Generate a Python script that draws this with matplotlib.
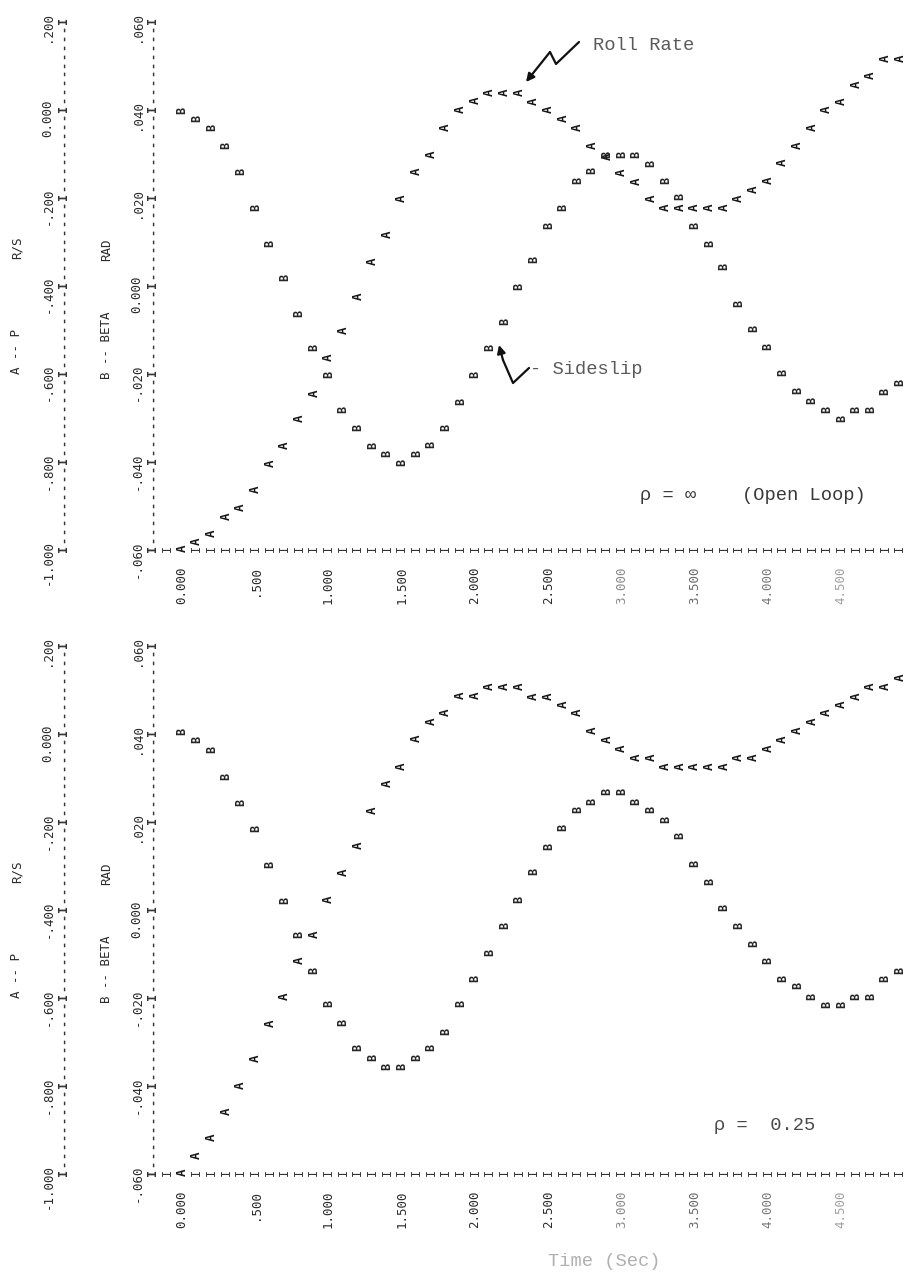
import numpy as np
import matplotlib
matplotlib.use("Agg")
import matplotlib.pyplot as plt
import matplotlib.transforms as mtransforms
from matplotlib.lines import Line2D
from matplotlib.patches import FancyArrowPatch

# ---------------- data ----------------
time_s = [0.0, 0.1, 0.2, 0.3, 0.4, 0.5, 0.6, 0.7, 0.8, 0.9,
          1.0, 1.1, 1.2, 1.3, 1.4, 1.5, 1.6, 1.7, 1.8, 1.9,
          2.0, 2.1, 2.2, 2.3, 2.4, 2.5, 2.6, 2.7, 2.8, 2.9,
          3.0, 3.1, 3.2, 3.3, 3.4, 3.5, 3.6, 3.7, 3.8, 3.9,
          4.0, 4.1, 4.2, 4.3, 4.4, 4.5, 4.6, 4.7, 4.8, 4.9]

# rho = infinity (open loop)
p_open = [-1.000, -0.984, -0.966, -0.927, -0.907, -0.866, -0.807, -0.766, -0.705, -0.648,
          -0.566, -0.505, -0.427, -0.348, -0.286, -0.205, -0.143, -0.105, -0.043, -0.002,
          0.018, 0.036, 0.036, 0.036, 0.016, -0.002, -0.023, -0.043, -0.084, -0.109,
          -0.145, -0.166, -0.205, -0.225, -0.225, -0.225, -0.225, -0.225, -0.205, -0.184,
          -0.164, -0.123, -0.084, -0.043, -0.002, 0.016, 0.055, 0.075, 0.114, 0.114]
beta_open = [0.0395, 0.0377, 0.0355, 0.0314, 0.0255, 0.0173, 0.0093, 0.0014, -0.0066, -0.0145,
             -0.0205, -0.0286, -0.0325, -0.0368, -0.0386, -0.0405, -0.0384, -0.0364, -0.0325, -0.0266,
             -0.0205, -0.0145, -0.0084, -0.0005, 0.0055, 0.0134, 0.0175, 0.0236, 0.0257, 0.0295,
             0.0295, 0.0295, 0.0275, 0.0236, 0.0198, 0.0134, 0.0093, 0.0039, -0.0045, -0.0102,
             -0.0143, -0.0202, -0.0243, -0.0264, -0.0286, -0.0305, -0.0286, -0.0286, -0.0245, -0.0223]

# rho = 0.25
p_rho025 = [-1.000, -0.961, -0.920, -0.861, -0.802, -0.741, -0.661, -0.600, -0.518, -0.459,
            -0.380, -0.318, -0.257, -0.177, -0.116, -0.077, -0.014, 0.025, 0.045, 0.084,
            0.084, 0.105, 0.105, 0.105, 0.082, 0.082, 0.064, 0.045, 0.005, -0.016,
            -0.036, -0.057, -0.057, -0.077, -0.077, -0.077, -0.077, -0.077, -0.057, -0.057,
            -0.036, -0.016, 0.005, 0.025, 0.045, 0.064, 0.082, 0.105, 0.105, 0.125]
beta_rho025 = [0.0402, 0.0382, 0.0361, 0.0300, 0.0241, 0.0180, 0.0100, 0.0018, -0.0059, -0.0141,
               -0.0218, -0.0259, -0.0318, -0.0339, -0.0359, -0.0359, -0.0339, -0.0318, -0.0280, -0.0218,
               -0.0159, -0.0100, -0.0039, 0.0020, 0.0082, 0.0141, 0.0182, 0.0223, 0.0243, 0.0264,
               0.0264, 0.0243, 0.0223, 0.0202, 0.0164, 0.0102, 0.0061, 0.0002, -0.0039, -0.0080,
               -0.0120, -0.0159, -0.0177, -0.0200, -0.0220, -0.0220, -0.0200, -0.0200, -0.0161, -0.0141]

time_ticks = [0.0, 0.5, 1.0, 1.5, 2.0, 2.5, 3.0, 3.5, 4.0, 4.5]
time_tick_labels = ["0.000", ".500", "1.000", "1.500", "2.000",
                    "2.500", "3.000", "3.500", "4.000", "4.500"]
p_ticks = [-1.0, -0.8, -0.6, -0.4, -0.2, 0.0, 0.2]
p_tick_labels = ["-1.000", "-.800", "-.600", "-.400", "-.200", "0.000", ".200"]
beta_ticks = [-0.06, -0.04, -0.02, 0.0, 0.02, 0.04, 0.06]
beta_tick_labels = ["-.060", "-.040", "-.020", "0.000", ".020", ".040", ".060"]

p_axis_title = ("A -- P", "R/S")
beta_axis_title = ("B -- BETA", "RAD")
panel_captions = [("\u03c1 = \u221e", "(Open Loop)"), ("\u03c1 =  0.25", None)]

# ---------------- layout ----------------
W, H = 906, 1279
X0, PXS = 182.0, 146.5          # pixel of t=0, pixels per second
MONO = ["DejaVu Sans Mono"]
TYPE = ["Liberation Mono", "DejaVu Sans Mono"]
INK = "#151515"

fig = plt.figure(figsize=(W / 100, H / 100), dpi=100)
fig.patch.set_facecolor("white")


def fxy(x, y):
    return (x / W, 1 - y / H)


def px_off(dx, dy):
    # offset in image pixels (dy positive = down)
    return mtransforms.ScaledTranslation(dx / 100, -dy / 100, fig.dpi_scale_trans)


def draw_panel(top, bottom, p, beta, caption):
    ax = fig.add_axes([0, 1 - bottom / H, 1, (bottom - top) / H])
    ax.set_xlim(-X0 / PXS, (W - X0) / PXS)
    ax.set_ylim(p_ticks[0], p_ticks[-1])
    ax.axis("off")
    axb = ax.twinx()
    axb.set_ylim(beta_ticks[0], beta_ticks[-1])
    axb.axis("off")

    xa = (63 - X0) / PXS
    xb = (152 - X0) / PXS
    # vertical printer axes  I---------I---------I
    sub_p = np.linspace(p_ticks[0], p_ticks[-1], 61)
    sub_b = np.linspace(beta_ticks[0], beta_ticks[-1], 61)
    for k in range(61):
        ch = "I" if k % 10 == 0 else "-"
        ax.text(xa, sub_p[k], ch, rotation=90, ha="center", va="center",
                family=MONO, fontsize=8.5, weight="bold", color="#333333")
        axb.text(xb, sub_b[k], ch, rotation=90, ha="center", va="center",
                 family=MONO, fontsize=8.5, weight="bold", color="#333333")

    # tick labels of vertical axes
    for v, lab in zip(p_ticks, p_tick_labels):
        ax.text((48 - X0) / PXS, v, lab, rotation=90, ha="center", va="top",
                family=MONO, fontsize=9, color="#2a2a2a",
                transform=ax.transData + px_off(0, -8))
    for v, lab in zip(beta_ticks, beta_tick_labels):
        axb.text((137 - X0) / PXS, v, lab, rotation=90, ha="center", va="top",
                 family=MONO, fontsize=9, color="#2a2a2a",
                 transform=axb.transData + px_off(0, -8))

    # axis titles
    fig.text(*fxy(17, top + 331), p_axis_title[0], rotation=90, ha="center", va="center",
             family=MONO, fontsize=9, color="#2a2a2a")
    fig.text(*fxy(17, top + 228), p_axis_title[1], rotation=90, ha="center", va="center",
             family=MONO, fontsize=9, color="#2a2a2a")
    fig.text(*fxy(107, top + 325), beta_axis_title[0], rotation=90, ha="center", va="center",
             family=MONO, fontsize=9, color="#2a2a2a")
    fig.text(*fxy(107, top + 230), beta_axis_title[1], rotation=90, ha="center", va="center",
             family=MONO, fontsize=9, color="#2a2a2a")

    # time axis row of I's (skip positions occupied by a data character)
    occupied = [t for t, v in zip(time_s, p) if abs(v - p_ticks[0]) < 0.01]
    for tt in np.arange(-0.2, 4.95, 0.1):
        if any(abs(tt - o) < 0.01 for o in occupied):
            continue
        ax.text(tt, p_ticks[0], "I", rotation=90, ha="center", va="center",
                family=MONO, fontsize=8.5, color="#333333")

    # time tick labels
    tl_colors = ["#2a2a2a"] * 6 + ["#8a8a8a", "#6a6a6a", "#7a7a7a", "#a0a0a0"]
    for tt, lab, c in zip(time_ticks, time_tick_labels, tl_colors):
        ax.text(tt, 0, lab, rotation=90, ha="center", va="top", family=MONO,
                fontsize=9, color=c,
                transform=ax.get_xaxis_transform() + px_off(0, 18))

    # data characters
    for t, v in zip(time_s, p):
        ax.text(t, v, "A", rotation=90, ha="center", va="center", family=MONO,
                fontsize=9, weight="bold", color=INK)
    for t, v in zip(time_s, beta):
        axb.text(t, v, "B", rotation=90, ha="center", va="center", family=MONO,
                 fontsize=8.5, weight="bold", color="#262626")
    return ax, axb


draw_panel(20, 548, p_open, beta_open, panel_captions[0])
draw_panel(644, 1172, p_rho025, beta_rho025, panel_captions[1])

# ---------------- hand annotations ----------------
TCOL = "#5a5a5a"
fig.text(*fxy(593, 45), "Roll Rate", ha="left", va="center", family=TYPE,
         fontsize=13.5, color=TCOL)
fig.text(*fxy(530, 369), "- Sideslip", ha="left", va="center", family=TYPE,
         fontsize=13.5, color=TCOL)
fig.text(*fxy(640, 495), panel_captions[0][0], ha="left", va="center", family=TYPE,
         fontsize=13.5, color="#3a3a3a")
fig.text(*fxy(742, 495), panel_captions[0][1], ha="left", va="center", family=TYPE,
         fontsize=13.5, color="#3a3a3a")
fig.text(*fxy(714, 1125), panel_captions[1][0], ha="left", va="center", family=TYPE,
         fontsize=13.5, color="#4a4a4a")
fig.text(*fxy(548, 1262), "Time (Sec)", ha="left", va="center", family=TYPE,
         fontsize=13.5, color="#b0b0b0")


def squiggle(pts):
    xs = [fxy(x, y)[0] for x, y in pts[:-1]]
    ys = [fxy(x, y)[1] for x, y in pts[:-1]]
    fig.add_artist(Line2D(xs, ys, transform=fig.transFigure, color="#111111",
                          lw=1.6, solid_capstyle="round", solid_joinstyle="round"))
    arr = FancyArrowPatch(fxy(*pts[-2]), fxy(*pts[-1]), transform=fig.transFigure,
                          arrowstyle="-|>", mutation_scale=12, color="#111111", lw=1.6,
                          shrinkA=0, shrinkB=0)
    fig.add_artist(arr)


squiggle([(579, 42), (556, 64), (550, 52), (526, 82)])
squiggle([(529, 368), (513, 383), (503, 360), (499, 345)])

fig.savefig("out.png", dpi=100, facecolor="white")
